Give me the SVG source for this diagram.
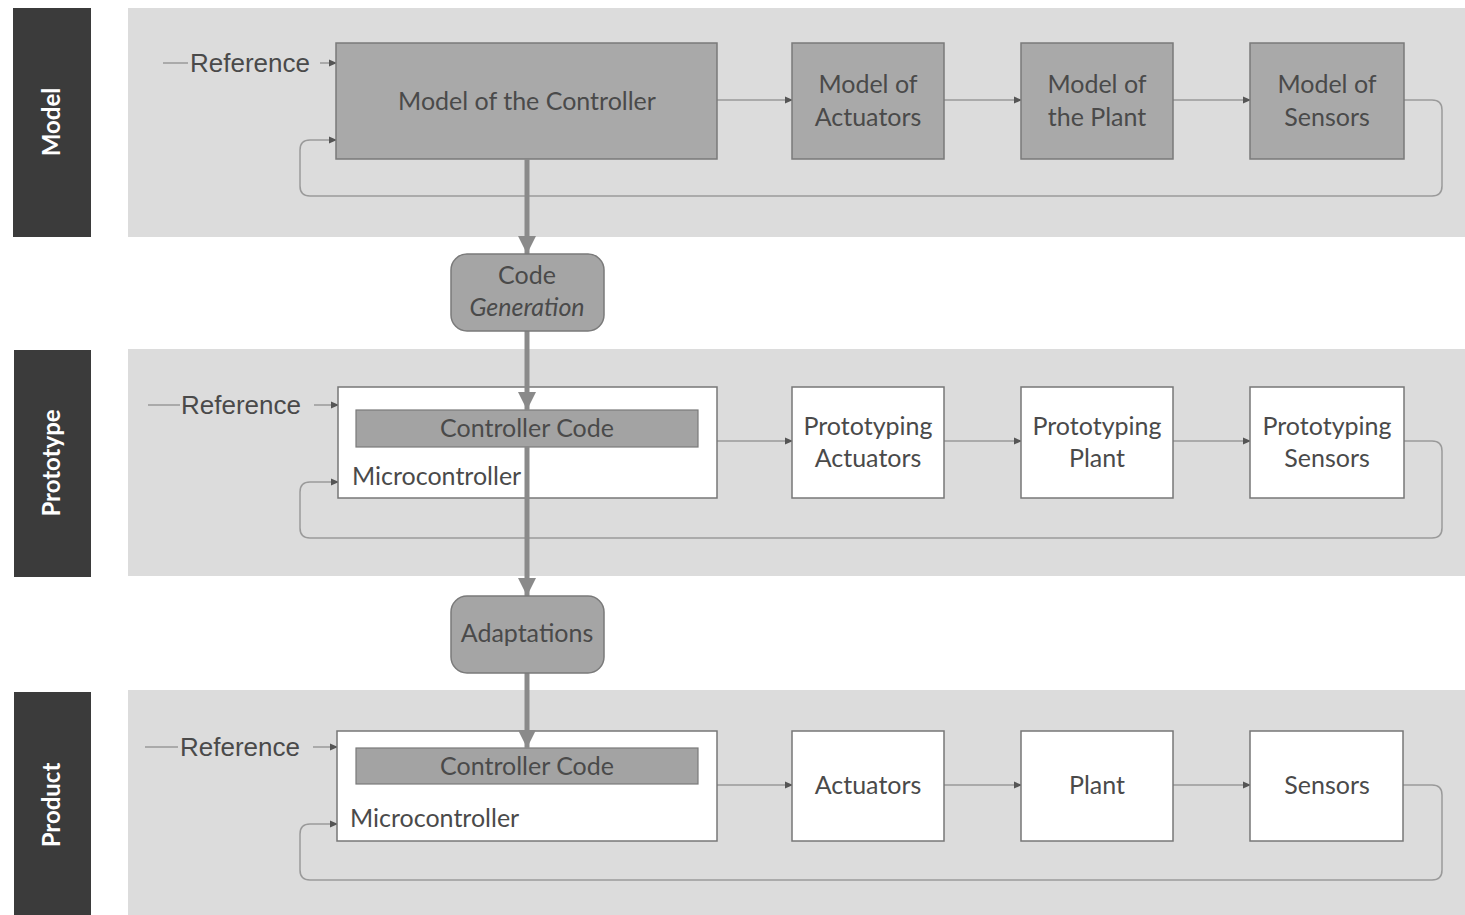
<svg xmlns="http://www.w3.org/2000/svg" width="1465" height="915" viewBox="0 0 1465 915">
<defs>
<style>
.band{fill:#dcdcdc}
.side{fill:#3b3b3b}
.sidet{fill:#fff;font-family:Lato,"Liberation Sans",sans-serif;font-weight:bold;font-size:24px;text-anchor:middle}
.gnode{fill:#a9a9a9;stroke:#7a7a7a;stroke-width:1.5}
.wnode{fill:#fff;stroke:#777;stroke-width:1.5}
.code{fill:#a3a3a3;stroke:#7a7a7a;stroke-width:1.2}
.rnode{fill:#a5a5a5;stroke:#7a7a7a;stroke-width:1.5}
.t{fill:#4a4a4a;font-family:Lato,"Liberation Sans",sans-serif;font-size:25px;text-anchor:middle}
.tl{fill:#4a4a4a;font-family:Lato,"Liberation Sans",sans-serif;font-size:25px}
.ref{fill:#4a4a4a;font-family:"Liberation Sans",Arial,sans-serif;font-size:26px}
.ln{fill:none;stroke:#9a9a9a;stroke-width:1.5}
.thick{fill:none;stroke:#8a8a8a;stroke-width:5}
</style>
<marker id="ah" markerWidth="8" markerHeight="8" refX="7" refY="4" orient="auto" markerUnits="userSpaceOnUse"><path d="M0,0.5 L8,4 L0,7.5 Z" fill="#555"/></marker>
<marker id="bh" markerWidth="20" markerHeight="18" refX="18" refY="9" orient="auto" markerUnits="userSpaceOnUse"><path d="M0,0 L18,9 L0,18 Z" fill="#8a8a8a"/></marker>
</defs>
<rect width="1465" height="915" fill="#fff"/>
<g id="bands">
<rect class="band" x="128" y="8" width="1337" height="229"/>
<rect class="band" x="128" y="349" width="1337" height="227"/>
<rect class="band" x="128" y="690" width="1337" height="225"/>
</g>
<g id="lane-model"><rect class="side" x="13" y="8" width="78" height="229"/><text class="sidet" transform="translate(60,122) rotate(-90)">Model</text></g>
<g id="lane-prototype"><rect class="side" x="14" y="350" width="77" height="227"/><text class="sidet" transform="translate(60,463) rotate(-90)">Prototype</text></g>
<g id="lane-product"><rect class="side" x="14" y="692" width="77" height="223"/><text class="sidet" transform="translate(60,805) rotate(-90)">Product</text></g>

<g id="connectors">
<path class="ln" d="M163,63 H188"/>
<path class="ln" d="M320,63 H336" marker-end="url(#ah)"/>
<path class="ln" d="M717,100 H792" marker-end="url(#ah)"/>
<path class="ln" d="M944,100 H1021" marker-end="url(#ah)"/>
<path class="ln" d="M1173,100 H1250" marker-end="url(#ah)"/>
<path class="ln" d="M1404,100 H1432 Q1442,100 1442,110 V186 Q1442,196 1432,196 H310 Q300,196 300,186 V150 Q300,140 310,140 H336" marker-end="url(#ah)"/>
<path class="ln" d="M148,405 H180"/>
<path class="ln" d="M314,405 H338" marker-end="url(#ah)"/>
<path class="ln" d="M717,441 H792" marker-end="url(#ah)"/>
<path class="ln" d="M944,441 H1021" marker-end="url(#ah)"/>
<path class="ln" d="M1173,441 H1250" marker-end="url(#ah)"/>
<path class="ln" d="M1404,441 H1432 Q1442,441 1442,451 V528 Q1442,538 1432,538 H310 Q300,538 300,528 V492 Q300,482 310,482 H338" marker-end="url(#ah)"/>
<path class="ln" d="M145,747 H178"/>
<path class="ln" d="M313,747 H337" marker-end="url(#ah)"/>
<path class="ln" d="M717,785 H792" marker-end="url(#ah)"/>
<path class="ln" d="M944,785 H1021" marker-end="url(#ah)"/>
<path class="ln" d="M1173,785 H1250" marker-end="url(#ah)"/>
<path class="ln" d="M1403,785 H1432 Q1442,785 1442,795 V870 Q1442,880 1432,880 H310 Q300,880 300,870 V834 Q300,824 310,824 H337" marker-end="url(#ah)"/>
</g>

<g id="n-model-controller"><rect class="gnode" x="336" y="43" width="381" height="116"/><text class="t" x="527" y="110">Model of the Controller</text></g>
<g id="n-model-actuators"><rect class="gnode" x="792" y="43" width="152" height="116"/><text class="t" x="868" y="93">Model of</text><text class="t" x="868" y="126">Actuators</text></g>
<g id="n-model-plant"><rect class="gnode" x="1021" y="43" width="152" height="116"/><text class="t" x="1097" y="93">Model of</text><text class="t" x="1097" y="126">the Plant</text></g>
<g id="n-model-sensors"><rect class="gnode" x="1250" y="43" width="154" height="116"/><text class="t" x="1327" y="93">Model of</text><text class="t" x="1327" y="126">Sensors</text></g>
<g id="lbl-ref-1"><text class="ref" x="190" y="72">Reference</text></g>

<g id="n-proto-micro"><rect class="wnode" x="338" y="387" width="379" height="111"/><rect class="code" x="356" y="410" width="342" height="37"/><text class="t" x="527" y="437">Controller Code</text><text class="tl" x="352" y="485">Microcontroller</text></g>
<g id="n-proto-actuators"><rect class="wnode" x="792" y="387" width="152" height="111"/><text class="t" x="868" y="435">Prototyping</text><text class="t" x="868" y="467">Actuators</text></g>
<g id="n-proto-plant"><rect class="wnode" x="1021" y="387" width="152" height="111"/><text class="t" x="1097" y="435">Prototyping</text><text class="t" x="1097" y="467">Plant</text></g>
<g id="n-proto-sensors"><rect class="wnode" x="1250" y="387" width="154" height="111"/><text class="t" x="1327" y="435">Prototyping</text><text class="t" x="1327" y="467">Sensors</text></g>
<g id="lbl-ref-2"><text class="ref" x="181" y="414">Reference</text></g>

<g id="n-prod-micro"><rect class="wnode" x="337" y="731" width="380" height="110"/><rect class="code" x="356" y="748" width="342" height="36"/><text class="t" x="527" y="775">Controller Code</text><text class="tl" x="350" y="827">Microcontroller</text></g>
<g id="n-prod-actuators"><rect class="wnode" x="792" y="731" width="152" height="110"/><text class="t" x="868" y="794">Actuators</text></g>
<g id="n-prod-plant"><rect class="wnode" x="1021" y="731" width="152" height="110"/><text class="t" x="1097" y="794">Plant</text></g>
<g id="n-prod-sensors"><rect class="wnode" x="1250" y="731" width="153" height="110"/><text class="t" x="1327" y="794">Sensors</text></g>
<g id="lbl-ref-3"><text class="ref" x="180" y="756">Reference</text></g>

<g id="flow">
<path class="thick" d="M527,159 V254" marker-end="url(#bh)"/>
<path class="thick" d="M527,331 V410" marker-end="url(#bh)"/>
<path class="thick" d="M527,447 V596" marker-end="url(#bh)"/>
<path class="thick" d="M527,673 V748" marker-end="url(#bh)"/>
</g>
<g id="n-codegen"><rect class="rnode" x="451" y="254" width="153" height="77" rx="16"/><text class="t" x="527" y="284">Code</text><text class="t" x="527" y="316" font-style="italic">Generation</text></g>
<g id="n-adapt"><rect class="rnode" x="451" y="596" width="153" height="77" rx="16"/><text class="t" x="527" y="642">Adaptations</text></g>
</svg>
